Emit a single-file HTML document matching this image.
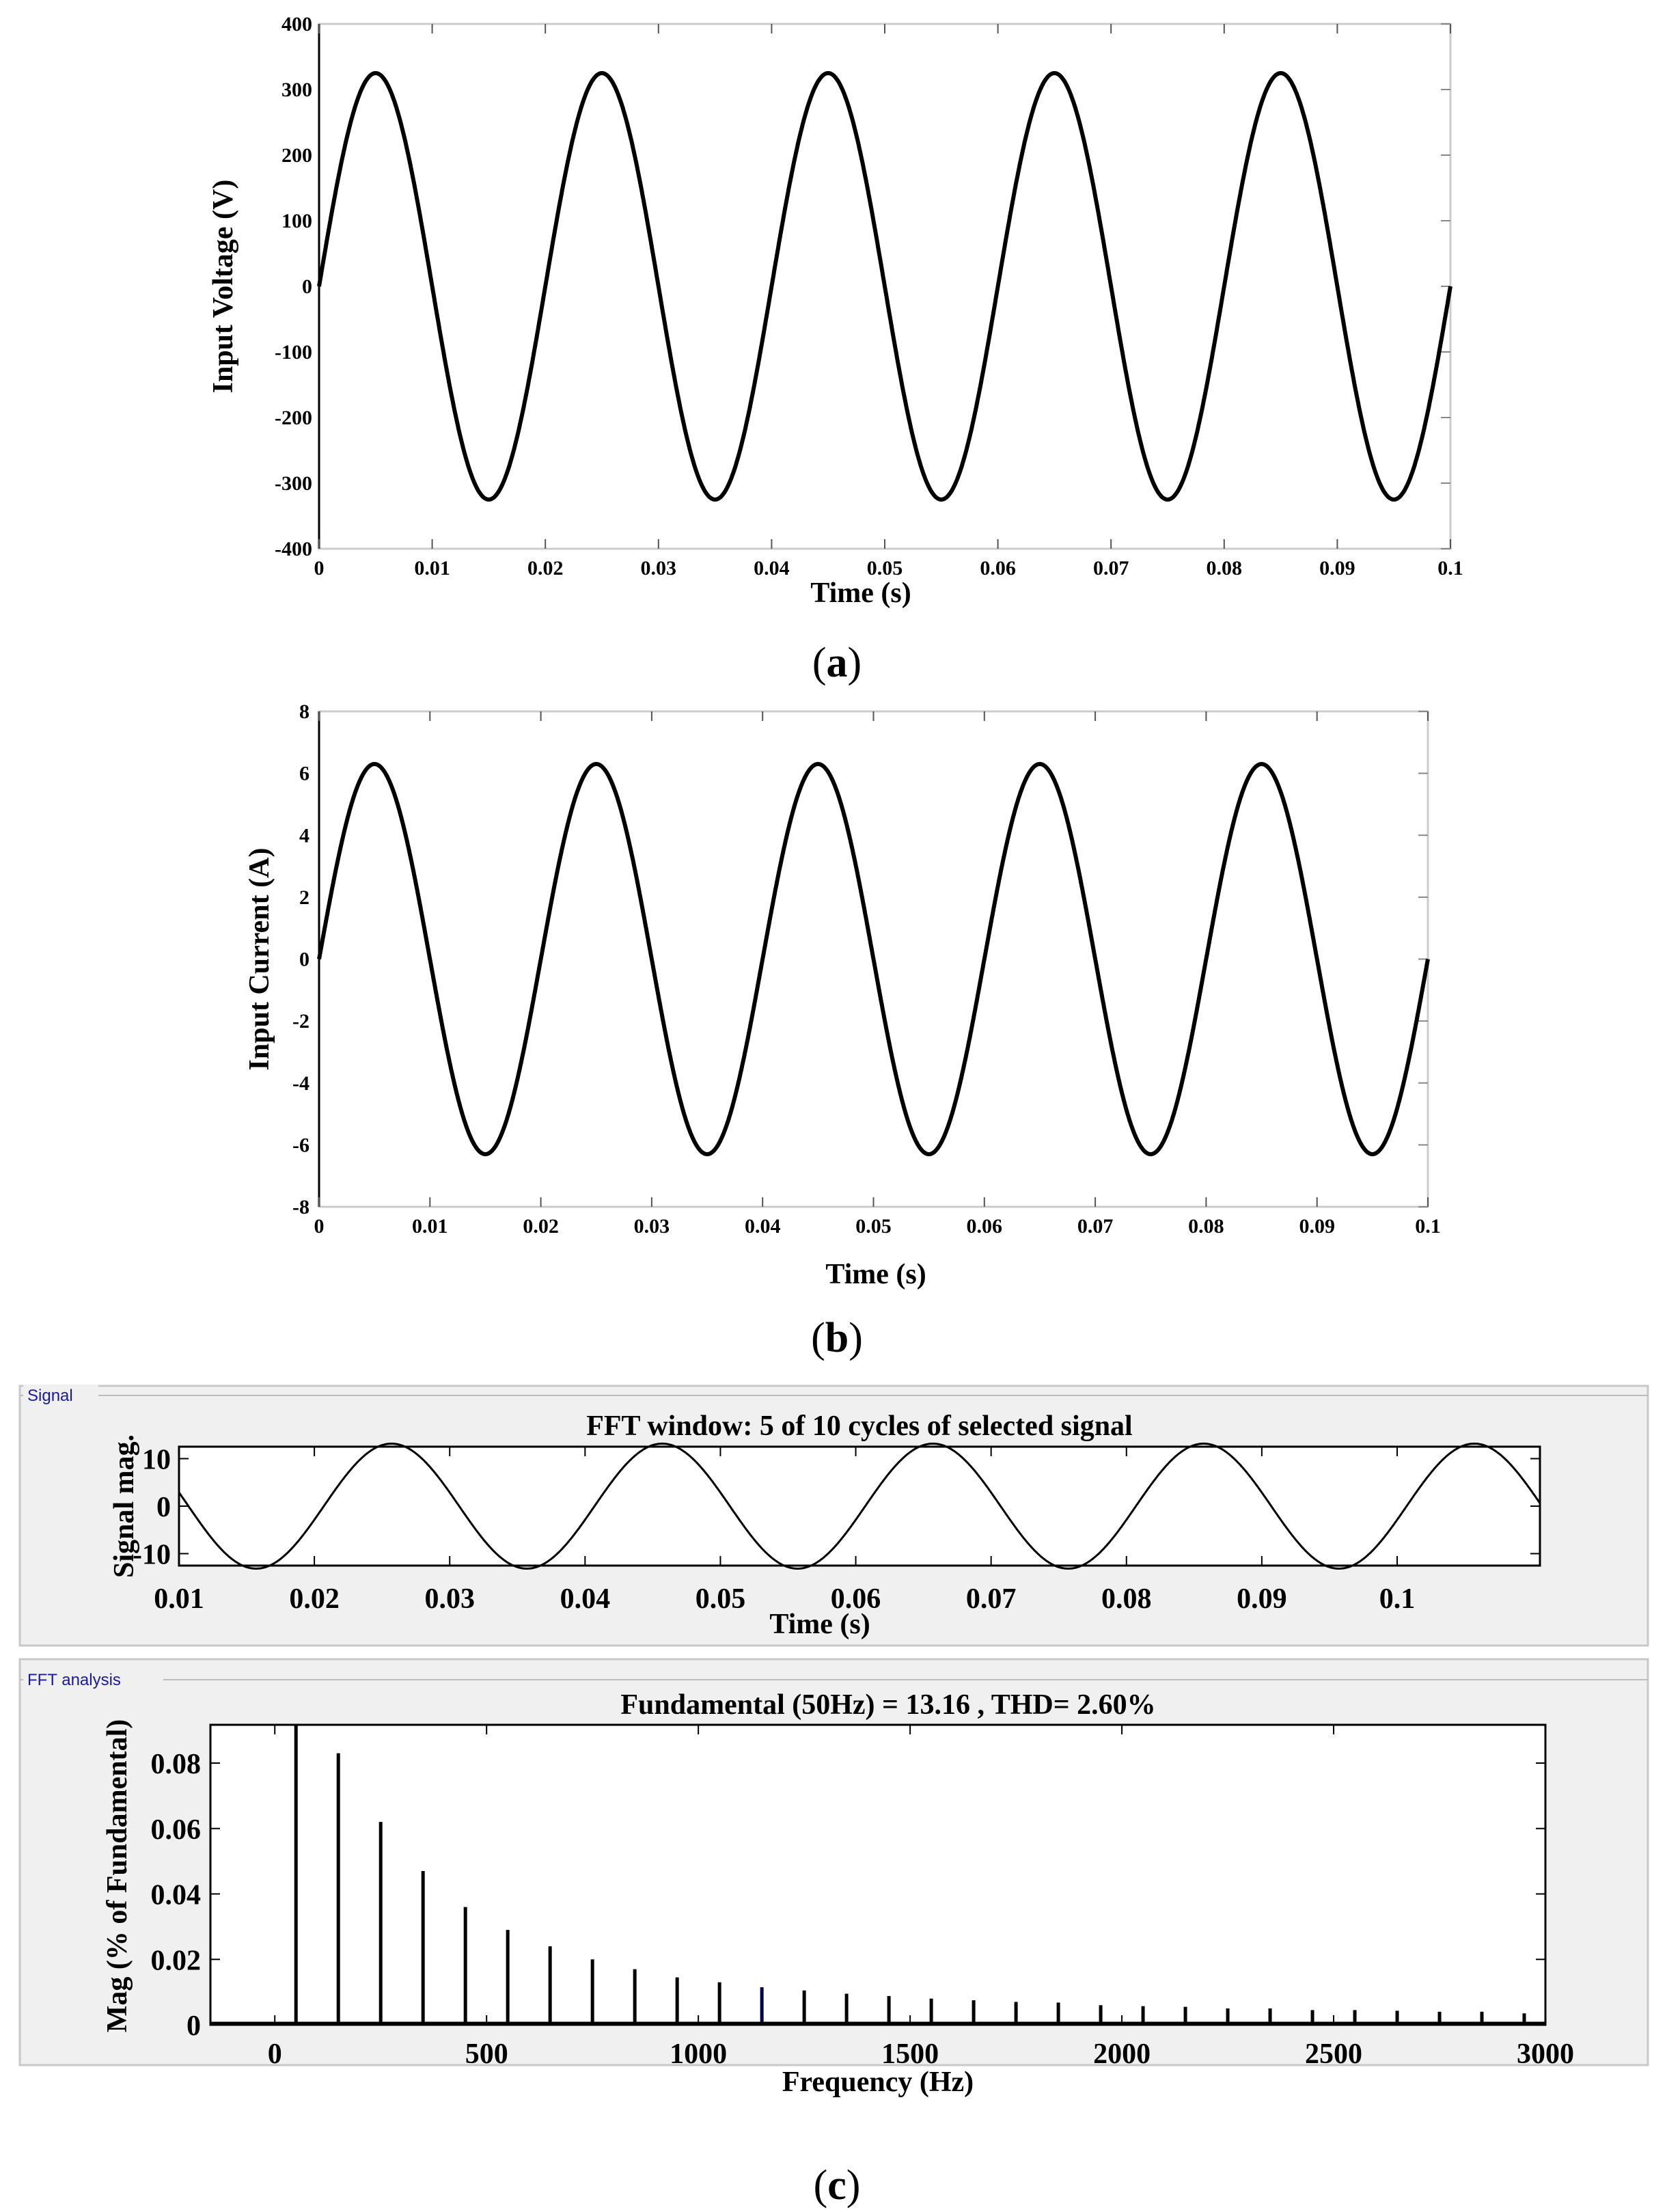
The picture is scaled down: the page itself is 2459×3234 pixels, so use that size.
<!DOCTYPE html>
<html><head><meta charset="utf-8"><style>
html,body{margin:0;padding:0;background:#fff}
svg{display:block}
text{font-family:"Liberation Serif",serif;font-weight:bold;fill:#000}
.t{font-size:30px}
.l{font-size:42px}
.s{font-family:"Liberation Sans",sans-serif;font-weight:normal;font-size:24px;fill:#1a1aa0}
</style></head><body>
<svg id="s" width="2459" height="3234" viewBox="0 0 2459 3234" xmlns="http://www.w3.org/2000/svg">
<rect width="2459" height="3234" fill="#fff"/>
<rect x="29" y="2028" width="2383" height="380" fill="#f0f0f0" stroke="#c8c8c8" stroke-width="3"/>
<rect x="29" y="2428" width="2383" height="594" fill="#f0f0f0" stroke="#c8c8c8" stroke-width="3"/>
<line x1="29" y1="2042" x2="2412" y2="2042" stroke="#bbb" stroke-width="2"/>
<line x1="29" y1="2458" x2="2412" y2="2458" stroke="#bbb" stroke-width="2"/>
<rect x="34" y="2026" width="110" height="30" fill="#f0f0f0"/>
<text class="s" x="40" y="2050">Signal</text>
<rect x="34" y="2442" width="205" height="30" fill="#f0f0f0"/>
<text class="s" x="40" y="2466">FFT analysis</text>
<rect x="262" y="2117" width="1992" height="174" fill="#fff" stroke="#000" stroke-width="3"/>
<rect x="308" y="2524" width="1954" height="439" fill="#fff" stroke="#000" stroke-width="3"/>
<g id="g"></g>
<text x="1225" y="990" text-anchor="middle" style="font-family:'Liberation Serif',serif;font-weight:normal;font-size:62px">(<tspan font-weight="bold">a</tspan>)</text>
<text x="1225" y="1978" text-anchor="middle" style="font-family:'Liberation Serif',serif;font-weight:normal;font-size:62px">(<tspan font-weight="bold">b</tspan>)</text>
<text x="1225" y="3218" text-anchor="middle" style="font-family:'Liberation Serif',serif;font-weight:normal;font-size:62px">(<tspan font-weight="bold">c</tspan>)</text>
</svg>
<script>
var g=document.getElementById('g'),h='';
function T(x,y,s,c,a,rot){h+='<text class="'+c+'" x="'+x+'" y="'+y+'" text-anchor="'+(a||'middle')+'"'+(rot?' transform="rotate(-90 '+x+' '+y+')"':'')+'>'+s+'</text>';}
function L(x1,y1,x2,y2,w,c){h+='<line x1="'+x1+'" y1="'+y1+'" x2="'+x2+'" y2="'+y2+'" stroke="'+(c||'#000')+'" stroke-width="'+(w||2)+'"/>';}
function wave(x0,x1,t0,t1,yc,sc,f){var d='';for(var i=0;i<=1200;i++){var t=t0+(t1-t0)*i/1200;var x=x0+(x1-x0)*i/1200;var y=yc-sc*f(t);d+=(i?'L':'M')+x.toFixed(1)+' '+y.toFixed(1);}return d;}
(function(){var X0=467,X1=2123,Y0=35,Y1=803;
h+='<rect x="'+X0+'" y="'+Y0+'" width="'+(X1-X0)+'" height="'+(Y1-Y0)+'" fill="none" stroke="#ccc" stroke-width="3"/>';
L(X0,Y0,X0,Y1,3,'#000');
for(var i=0;i<=10;i++){var x=X0+(X1-X0)*i/10;L(x,Y0,x,Y0+14,2,'#555');L(x,Y1,x,Y1-14,2,'#555');T(x,Y1+38,i==0?'0':(i==10?'0.1':(i/100).toFixed(2)),'t');}
for(var v=-400;v<=400;v+=100){var y=(Y0+Y1)/2-v*(Y1-Y0)/800;L(X1,y,X1-14,y,2,'#888');T(X0-10,y+10,v,'t','end');}
h+='<path d="'+wave(X0,X1,0,0.1,(Y0+Y1)/2,(Y1-Y0)/800,function(t){return 325*Math.sin(2*Math.PI*50*t)})+'" fill="none" stroke="#000" stroke-width="6"/>';
T(1260,Y1+78,'Time (s)','l');T(340,(Y0+Y1)/2,'Input Voltage (V)','l','middle',1);
})();
(function(){var X0=467,X1=2090,Y0=1041,Y1=1766;
h+='<rect x="'+X0+'" y="'+Y0+'" width="'+(X1-X0)+'" height="'+(Y1-Y0)+'" fill="none" stroke="#ccc" stroke-width="3"/>';
L(X0,Y0,X0,Y1,3,'#000');
for(var i=0;i<=10;i++){var x=X0+(X1-X0)*i/10;L(x,Y0,x,Y0+14,2,'#555');L(x,Y1,x,Y1-14,2,'#555');T(x,Y1+38,i==0?'0':(i==10?'0.1':(i/100).toFixed(2)),'t');}
for(var v=-8;v<=8;v+=2){var y=(Y0+Y1)/2-v*(Y1-Y0)/16;L(X1,y,X1-14,y,2,'#888');T(X0-14,y+10,v,'t','end');}
h+='<path d="'+wave(X0,X1,0,0.1,(Y0+Y1)/2,(Y1-Y0)/16,function(t){return 6.3*Math.sin(2*Math.PI*50*t)})+'" fill="none" stroke="#000" stroke-width="6"/>';
T(1282,Y1+112,'Time (s)','l');T(393,(Y0+Y1)/2,'Input Current (A)','l','middle',1);
})();
(function(){var X0=262,X1=2254,Y0=2117,Y1=2291,yc=2204,k=6.95;
var sx=function(t){return X0+(t-0.01)*(1783/0.09);};
for(var i=1;i<=10;i++){var x=sx(i/100);L(x,Y0,x,Y0+14);L(x,Y1,x,Y1-14);T(x,Y1+62,i==10?'0.1':(i/100).toFixed(2),'l');}
[10,0,-10].forEach(function(v){var y=yc-v*k;L(X0,y,X0+14,y);L(X1,y,X1-14,y);T(X0-12,y+15,v,'l','end');});
h+='<path d="'+wave(X0,X1,0.01,0.01+(X1-X0)*0.09/1783,yc,k,function(t){return -13.16*Math.cos(2*Math.PI*50*(t-0.0157))})+'" fill="none" stroke="#000" stroke-width="3"/>';
T(1258,2100,'FFT window: 5 of 10 cycles of selected signal','l');
T(1200,2390,'Time (s)','l');T(195,2204,'Signal mag.','l','middle',1);
})();
(function(){var X0=308,X1=2262,Y0=2524,Y1=2963,ym=0.0917;
var sx=function(f){return X0+(f+152)*(X1-X0)/3152;},sy=function(v){return Y1-v*(Y1-Y0)/ym;};
for(var f=0;f<=3000;f+=500){var x=sx(f);L(x,Y1,x,Y1-14);L(x,Y0,x,Y0+14);T(x,Y1+56,f,'l');}
for(var v=0;v<=0.08;v+=0.02){var y=sy(v);L(X0,y,X0+14,y);L(X1,y,X1-14,y);T(X0-14,y+15,v==0?'0':v.toFixed(2),'l','end');}
var m=[0.0917,0.083,0.062,0.047,0.036,0.029,0.024,0.020,0.017,0.0145,0.013,0.0115,0.0105,0.0095,0.0088,0.008,0.0075,0.007,0.0068,0.006,0.0057,0.0055,0.005,0.005,0.0045,0.0045,0.0043,0.004,0.004,0.0035];
m.forEach(function(v,i){var x=sx(50+100*i);L(x,Y1,x,sy(v),5,i==11?'#00004a':'#000');});
L(X0,Y1-2,X1,Y1-2,5);
T(1300,2508,'Fundamental (50Hz) = 13.16 , THD= 2.60%','l');
T(1285,3060,'Frequency (Hz)','l');T(185,2745,'Mag (% of Fundamental)','l','middle',1);
})();
g.innerHTML=h;
</script>
</body></html>
